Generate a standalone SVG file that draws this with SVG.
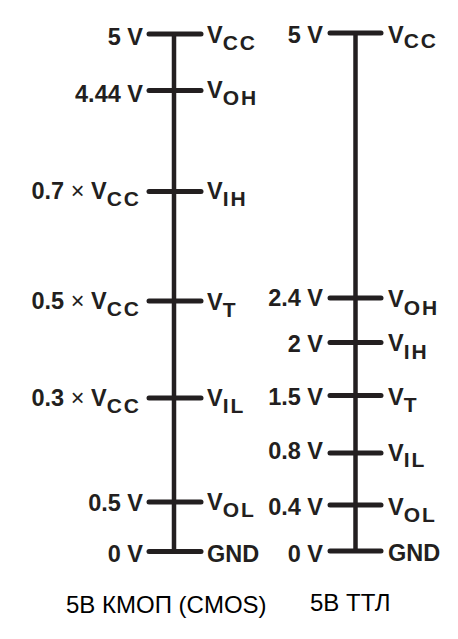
<svg xmlns="http://www.w3.org/2000/svg" width="458" height="639" viewBox="0 0 458 639">
<style>
.ax{stroke:#231f20;stroke-width:4.5;fill:none}
.tk{stroke:#231f20;stroke-width:5;stroke-linecap:round}
.l{font-family:"Liberation Sans",Arial,sans-serif;font-weight:bold;font-size:23.5px;fill:#231f20;text-anchor:end}
.r{font-family:"Liberation Sans",Arial,sans-serif;font-weight:bold;font-size:23.5px;fill:#231f20}
.s{font-size:21px;letter-spacing:2px}
.x{font-weight:normal}
.t{font-family:"Liberation Sans",Arial,sans-serif;font-size:24px;fill:#000}
</style>
<rect width="458" height="639" fill="#fff"/>
<g id="connectors">
<line class="ax" x1="174" y1="34" x2="174" y2="552"/>
<line class="ax" x1="355.5" y1="33" x2="355.5" y2="551"/>
</g>
<g id="cmos-vcc"><line class="tk" x1="149" y1="34" x2="201" y2="34"/><text class="l" x="143" y="45">5 V</text><text class="r" x="207" y="43">V<tspan class="s" dy="7">CC</tspan></text></g>
<g id="cmos-voh"><line class="tk" x1="149" y1="90.5" x2="201" y2="90.5"/><text class="l" x="143" y="101.5">4.44 V</text><text class="r" x="207" y="97.5">V<tspan class="s" dy="7">OH</tspan></text></g>
<g id="cmos-vih"><line class="tk" x1="149" y1="191.5" x2="201" y2="191.5"/><text class="l" x="141" y="198.5">0.7 <tspan class="x">×</tspan> V<tspan class="s" dy="7.5">CC</tspan></text><text class="r" x="207" y="198.5">V<tspan class="s" dy="7">IH</tspan></text></g>
<g id="cmos-vt"><line class="tk" x1="149" y1="301" x2="201" y2="301"/><text class="l" x="141" y="309">0.5 <tspan class="x">×</tspan> V<tspan class="s" dy="7">CC</tspan></text><text class="r" x="207" y="310">V<tspan class="s" dy="7">T</tspan></text></g>
<g id="cmos-vil"><line class="tk" x1="149" y1="398" x2="201" y2="398"/><text class="l" x="141" y="406">0.3 <tspan class="x">×</tspan> V<tspan class="s" dy="7">CC</tspan></text><text class="r" x="207" y="406">V<tspan class="s" dy="7">IL</tspan></text></g>
<g id="cmos-vol"><line class="tk" x1="149" y1="502" x2="201" y2="502"/><text class="l" x="143" y="510.5">0.5 V</text><text class="r" x="207" y="509.5">V<tspan class="s" dy="7">OL</tspan></text></g>
<g id="cmos-gnd"><line class="tk" x1="149" y1="551.5" x2="201" y2="551.5"/><text class="l" x="143" y="562">0 V</text><text class="r" x="207" y="561.5">GND</text></g>
<g id="ttl-vcc"><line class="tk" x1="330" y1="33" x2="381" y2="33"/><text class="l" x="323" y="42.5">5 V</text><text class="r" x="388" y="42.5">V<tspan class="s" dy="5">CC</tspan></text></g>
<g id="ttl-voh"><line class="tk" x1="330" y1="298" x2="381" y2="298"/><text class="l" x="323" y="305.5">2.4 V</text><text class="r" x="388" y="306.5">V<tspan class="s" dy="8">OH</tspan></text></g>
<g id="ttl-vih"><line class="tk" x1="330" y1="342.5" x2="381" y2="342.5"/><text class="l" x="323" y="351.5">2 V</text><text class="r" x="388" y="351">V<tspan class="s" dy="8">IH</tspan></text></g>
<g id="ttl-vt"><line class="tk" x1="330" y1="395.5" x2="381" y2="395.5"/><text class="l" x="323" y="405">1.5 V</text><text class="r" x="388" y="405">V<tspan class="s" dy="7">T</tspan></text></g>
<g id="ttl-vil"><line class="tk" x1="330" y1="453" x2="381" y2="453"/><text class="l" x="323" y="458.5">0.8 V</text><text class="r" x="388" y="461">V<tspan class="s" dy="6">IL</tspan></text></g>
<g id="ttl-vol"><line class="tk" x1="330" y1="505" x2="381" y2="505"/><text class="l" x="323" y="515">0.4 V</text><text class="r" x="388" y="515">V<tspan class="s" dy="6.5">OL</tspan></text></g>
<g id="ttl-gnd"><line class="tk" x1="330" y1="551" x2="381" y2="551"/><text class="l" x="323" y="561.5">0 V</text><text class="r" x="388" y="561">GND</text></g>
<g id="title-cmos"><text class="t" x="66" y="612.5">5В КМОП (CMOS)</text></g>
<g id="title-ttl"><text class="t" x="310" y="610.5">5В ТТЛ</text></g>
</svg>
